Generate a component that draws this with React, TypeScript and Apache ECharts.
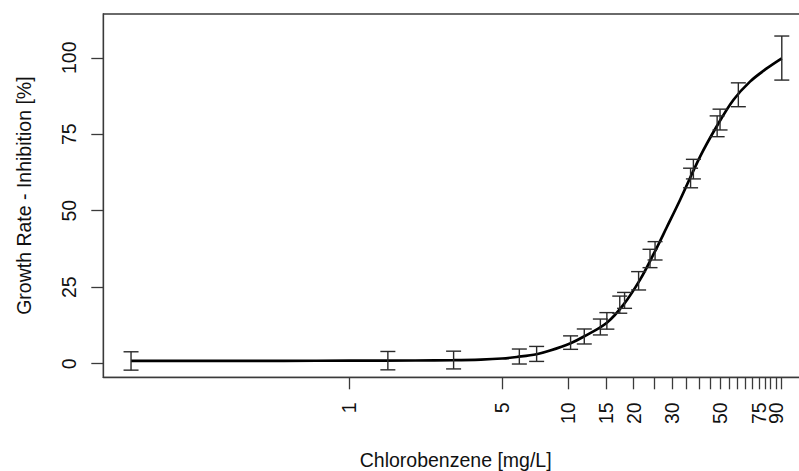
import React, { useEffect, useRef } from "react";
import * as echarts from "echarts";

// Measured data points (concentration mg/L, inhibition %, error half-width %)
const concentrations = [0.1, 1.5, 3.0, 6.0, 7.2, 10.3, 11.9, 14.1, 15.1, 17.3, 18.2, 21.1, 23.8, 25.1, 36.5, 37.6, 48.3, 49.8, 60.4, 95.5];
const inhibition = [0.9, 1.0, 1.2, 2.35, 3.2, 6.9, 8.9, 12.0, 14.0, 19.3, 20.7, 27.1, 34.4, 36.9, 60.7, 63.6, 77.6, 79.8, 87.9, 99.9];
const errors = [3.0, 3.0, 2.9, 2.45, 2.45, 2.2, 2.45, 2.6, 2.7, 2.8, 2.6, 3.0, 3.0, 3.0, 3.2, 3.2, 3.4, 3.4, 3.9, 7.2];

// Fitted curve
const curveX = [0.1, 0.5, 1.0, 2.0, 3.0, 4.0, 5.0, 5.84, 7.2, 8.3, 10.3, 11.8, 15.1, 18.0, 21.4, 24.7, 28.4, 32.7, 40.3, 48.1, 57.3, 68.3, 81.5, 95.5];
const curveY = [0.9, 0.95, 1.0, 1.05, 1.15, 1.35, 1.7, 2.2, 3.1, 4.3, 6.7, 8.8, 13.4, 19.3, 27.4, 35.8, 44.6, 53.6, 67.6, 77.6, 86.2, 92.2, 96.5, 99.8];

// Axis ticks and labels
const xTickValues = [1, 5, 10, 15, 20, 25, 30, 35, 40, 45, 50, 55, 60, 65, 70, 75, 80, 85, 90, 95];
const xLabelValues = [1, 5, 10, 15, 20, 30, 50, 75];
const xLabelValuesEnd = [90];
const yTickValues = [0, 25, 50, 75, 100];

const FONT = "Liberation Sans, Arial, Helvetica, sans-serif";
const X_MIN = 0.07464;
const X_MAX = 125.9;

export default function App() {
  const ref = useRef<HTMLDivElement>(null);
  useEffect(() => {
    if (!ref.current) return;
    const chart = echarts.init(ref.current, null, { renderer: "svg" });
    const pointData = concentrations.map((c, i) => [c, inhibition[i], errors[i]]);
    const curveData = curveX.map((c, i) => [c, curveY[i]]);
    const labelStyle = {
      show: true,
      rotate: 90,
      margin: 25,
      hideOverlap: false,
      showMinLabel: true,
      showMaxLabel: true,
      fontFamily: FONT,
      fontSize: 19.5,
      color: "#111",
      formatter: (v: number) => String(Math.round(v)),
    };
    chart.setOption({
      animation: false,
      backgroundColor: "#ffffff",
      grid: {
        left: 103.3,
        top: 14,
        width: 704.7,
        height: 363.3,
        show: true,
        borderColor: "#3a3a3a",
        borderWidth: 1.3,
        containLabel: false,
        outerBoundsMode: "none",
      },
      xAxis: [
        {
          type: "log",
          logBase: 10,
          position: "bottom",
          min: X_MIN,
          max: X_MAX,
          name: "Chlorobenzene [mg/L]",
          nameLocation: "middle",
          nameGap: 73,
          nameTextStyle: { fontFamily: FONT, fontSize: 19.5, color: "#111", lineHeight: 20 },
          axisLine: { show: true, onZero: false, lineStyle: { color: "#3a3a3a", width: 1.3 } },
          axisTick: {
            show: true,
            inside: false,
            length: 12,
            customValues: xTickValues,
            lineStyle: { color: "#3a3a3a", width: 1.3 },
          },
          axisLabel: { ...labelStyle, customValues: xLabelValues },
          splitLine: { show: false },
          minorTick: { show: false },
          minorSplitLine: { show: false },
        },
        {
          type: "log",
          logBase: 10,
          position: "bottom",
          offset: 0,
          min: X_MIN,
          max: X_MAX,
          axisLine: { show: false, onZero: false },
          axisTick: { show: false },
          axisLabel: { ...labelStyle, customValues: xLabelValuesEnd },
          splitLine: { show: false },
          minorTick: { show: false },
          minorSplitLine: { show: false },
        },
      ],
      yAxis: {
        type: "value",
        min: -4.44,
        max: 114.3,
        name: "Growth Rate - Inhibition [%]",
        nameLocation: "middle",
        nameRotate: 90,
        nameGap: 69,
        nameTextStyle: { fontFamily: FONT, fontSize: 19.5, color: "#111" },
        axisLine: { show: true, onZero: false, lineStyle: { color: "#3a3a3a", width: 1.3 } },
        axisTick: {
          show: true,
          inside: false,
          length: 12,
          customValues: yTickValues,
          lineStyle: { color: "#3a3a3a", width: 1.3 },
        },
        axisLabel: {
          show: true,
          rotate: 90,
          margin: 24,
          showMinLabel: true,
          showMaxLabel: true,
          customValues: yTickValues,
          fontFamily: FONT,
          fontSize: 19.5,
          color: "#111",
        },
        splitLine: { show: false },
      },
      series: [
        {
          type: "line",
          xAxisIndex: 0,
          data: curveData,
          smooth: 0.35,
          showSymbol: false,
          symbol: "none",
          lineStyle: { color: "#000", width: 2.7 },
          z: 3,
        },
        {
          type: "custom",
          xAxisIndex: 0,
          data: pointData,
          z: 4,
          renderItem: (params: any, api: any) => {
            const x = api.value(0);
            const y = api.value(1);
            const e = api.value(2);
            const top = api.coord([x, y + e]);
            const bot = api.coord([x, y - e]);
            const hw = 7.5;
            const style = { stroke: "#2a2a2a", lineWidth: 1.4, fill: "none" };
            return {
              type: "group",
              children: [
                { type: "line", shape: { x1: top[0], y1: top[1], x2: bot[0], y2: bot[1] }, style },
                { type: "line", shape: { x1: top[0] - hw, y1: top[1], x2: top[0] + hw, y2: top[1] }, style },
                { type: "line", shape: { x1: bot[0] - hw, y1: bot[1], x2: bot[0] + hw, y2: bot[1] }, style },
              ],
            };
          },
        },
      ],
    });
    return () => chart.dispose();
  }, []);
  return (
    <div
      ref={ref}
      style={{ position: "fixed", left: 0, top: 0, width: 799, height: 471, background: "#fff", overflow: "hidden" }}
    />
  );
}
